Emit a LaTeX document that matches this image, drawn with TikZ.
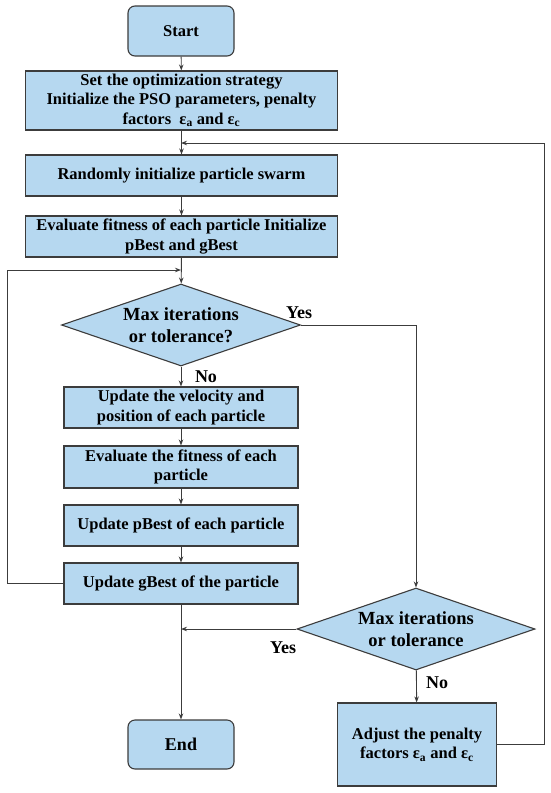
\documentclass[tikz,border=0pt]{standalone}
\usepackage{fontspec}
\setmainfont{Liberation Serif}
\usetikzlibrary{shapes.geometric,arrows.meta}
\definecolor{boxfill}{RGB}{182,216,240}
\definecolor{boxline}{RGB}{60,60,60}
\tikzset{
  x=1pt,y=-1pt,
  base/.style={draw=boxline,fill=boxfill,line width=1.1pt,inner sep=1pt,align=center,
    font=\fontsize{16.5}{19.5}\selectfont\bfseries},
  procbox/.style={base,rectangle},
  termbox/.style={base,rectangle,rounded corners=7pt,minimum width=106pt,minimum height=50pt},
  decbox/.style={base,diamond,aspect=2.9,inner sep=0pt,font=\fontsize{18.5}{22}\selectfont\bfseries},
  conn/.style={draw=boxline,line width=0.9pt},
  arr/.style={conn,-{Stealth[length=6pt,width=4.5pt]}},
  lbl/.style={font=\fontsize{18}{22}\selectfont\bfseries,inner sep=0pt}
}
\begin{document}
\begin{tikzpicture}
\useasboundingbox (0,0) rectangle (550,793);
\node[termbox] (start) at (181,31) {Start};
\node[procbox,minimum width=312pt,minimum height=59pt] (init) at (181.5,100.5)
  {Set the optimization strategy\\Initialize the PSO parameters, penalty\\factors~ ε\textsubscript{a} and ε\textsubscript{c}};
\node[procbox,minimum width=312pt,minimum height=41pt] (swarm) at (181.5,175.5) {Randomly initialize particle swarm};
\node[procbox,minimum width=312pt,minimum height=41pt] (evalinit) at (181.5,236.5)
  {Evaluate fitness of each particle Initialize\\pBest and gBest};
\node[decbox,minimum width=239pt,minimum height=82pt] (dec1) at (181,325)
  {Max iterations\\or tolerance?};
\node[procbox,minimum width=234pt,minimum height=41pt] (upd) at (181,407.5)
  {Update the velocity and\\position of each particle};
\node[procbox,minimum width=234pt,minimum height=42pt] (evalfit) at (181,467)
  {Evaluate the fitness of each\\particle};
\node[procbox,minimum width=234pt,minimum height=41pt] (pbest) at (181,525.5) {Update pBest of each particle};
\node[procbox,minimum width=234pt,minimum height=41pt] (gbest) at (181,583.5) {Update gBest of the particle};
\node[decbox,minimum width=238pt,minimum height=82pt] (dec2) at (416,629)
  {Max iterations\\or tolerance};
\node[termbox,minimum height=49pt,font=\fontsize{18}{22}\selectfont\bfseries] (endn) at (181,744.5) {End};
\node[procbox,minimum width=159pt,minimum height=83pt] (adjust) at (417,744.5)
  {Adjust the penalty\\factors ε\textsubscript{a} and ε\textsubscript{c}};

\coordinate (loopR) at (181,143);
\coordinate (loopL) at (181,270);
\coordinate (rightX) at (544,0);
\coordinate (leftX) at (7.5,0);

\draw[arr] (start) -- (init);
\draw[arr] (init) -- (swarm);
\draw[arr] (swarm) -- (evalinit);
\draw[arr] (evalinit) -- (dec1);
\draw[arr] (dec1) -- (upd);
\draw[arr] (upd) -- (evalfit);
\draw[arr] (evalfit) -- (pbest);
\draw[arr] (pbest) -- (gbest);
\draw[arr] (gbest) -- (endn);
\draw[arr] (gbest.west) -| (leftX |- loopL) -- (loopL);
\draw[arr] (dec1.east) -| (dec2.north);
\draw[arr] (dec2.west) -- (gbest.south |- dec2.west);
\draw[arr] (dec2) -- (adjust);
\draw[arr] (adjust.east) -| (rightX |- loopR) -- (loopR);

\node[lbl] (yes1) at (299,313) {Yes};
\node[lbl] (no1) at (206,377) {No};
\node[lbl] (yes2) at (283,648) {Yes};
\node[lbl] (no2) at (437,683) {No};
\end{tikzpicture}
\end{document}
